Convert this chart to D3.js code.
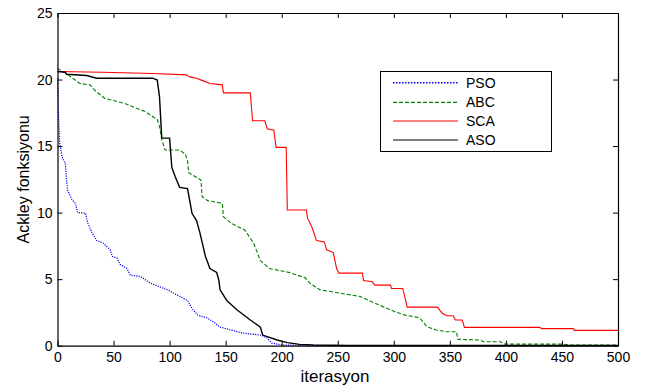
<!DOCTYPE html>
<html><head><meta charset="utf-8">
<script src="https://cdn.jsdelivr.net/npm/d3@7"></script>
<style>
body{margin:0;background:#fff;}
svg{display:block;font-family:"Liberation Sans",Arial,sans-serif;}
</style></head>
<body><svg id="c" width="645" height="390"></svg>
<script>
// ---- data ----
const xTicks = [0,50,100,150,200,250,300,350,400,450,500];
const yTicks = [0,5,10,15,20,25];
const seriesNames = ["PSO","ABC","SCA","ASO"];
const psoData = [[0,20.1],[1,17],[2,15.2],[4,14.2],[7,13.7],[8,12.45],[9,11.7],[13,10.95],[16,10.7],[18,10.0],[25,9.95],[27,9.2],[31,8.45],[35,7.9],[41,7.7],[47,7.2],[49,6.7],[53,6.6],[56,6.1],[62,5.8],[65,5.3],[74,5.2],[83,4.7],[98,4.2],[107,3.8],[116,3.4],[120,2.8],[125,2.3],[133,2.1],[139,1.8],[145,1.4],[154,1.2],[165,0.95],[181,0.8],[187,0.58],[191,0.2],[201,0.05],[230,0.01],[500,0.0]];
const abcData = [[0,20.84],[7,20.5],[20,19.7],[29,19.6],[33,19.2],[42,18.6],[51,18.4],[60,18.2],[69,17.9],[78,17.6],[89,17.0],[91,16.5],[93,15.5],[96,14.7],[109,14.7],[114,14.4],[116,13.9],[117,13.0],[128,12.45],[129,11.2],[134,10.9],[147,10.7],[148,9.7],[155,9.2],[167,8.7],[175,7.7],[181,6.4],[189,5.8],[207,5.5],[221,5.1],[225,4.7],[234,4.2],[252,3.95],[270,3.7],[283,3.2],[301,2.55],[310,2.3],[323,2.1],[329.5,1.43],[338,1.18],[347,1.05],[356,1.05],[357,0.48],[377,0.43],[380,0.3],[395,0.3],[399,0.12],[451,0.12],[456,0.05],[500,0.05]];
const scaData = [[0,20.6],[40,20.55],[85,20.45],[115,20.35],[118,20.2],[124,20.1],[130,19.9],[136,19.7],[147,19.6],[148,19.0],[172,19.0],[174,16.9],[185,16.9],[187,16.3],[193,16.2],[195,14.9],[204,14.9],[205,10.2],[222,10.2],[223,9.6],[227,8.9],[231,7.9],[238,7.8],[240,7.2],[246,7.0],[249,5.8],[251,5.45],[272,5.45],[273,4.9],[281,4.8],[283,4.55],[297,4.55],[298,4.3],[308,4.3],[312,2.9],[339,2.9],[343,2.45],[347,2.25],[353,2.25],[355,1.93],[361,1.93],[363,1.38],[430,1.38],[432,1.28],[460,1.28],[461,1.15],[500,1.15]];
const asoData = [[0,20.6],[7,20.55],[8,20.4],[26,20.3],[35,20.1],[85,20.1],[89,19.96],[91,18.7],[93,15.6],[100,15.6],[102,13.4],[105,12.7],[109,11.9],[116,11.8],[120,9.95],[124,9.4],[127,8.5],[132,6.7],[136,5.8],[142,5.5],[144,4.9],[145,4.2],[151,3.4],[160,2.7],[172,1.93],[181,1.4],[183,0.8],[196,0.43],[205,0.23],[216,0.1],[228,0.05],[260,0.02],[500,0.01]];

const W=645,H=390;
const m={l:57.5,r:618,t:13,b:345.7};
const xs=d3.scaleLinear().domain([0,500]).range([m.l,m.r]);
const ys=d3.scaleLinear().domain([0,25]).range([m.b,m.t]);
const svg=d3.select("#c");

const series=[
 {name:"PSO",data:psoData,color:"#0000ff",dash:"1.2,1.2",w:1.2},
 {name:"ABC",data:abcData,color:"#008000",dash:"4,2",w:1.1},
 {name:"SCA",data:scaData,color:"#ff0000",dash:null,w:1.1},
 {name:"ASO",data:asoData,color:"#000000",dash:null,w:1.4}
];

const lineGen=d3.line().x(d=>xs(d[0])).y(d=>ys(d[1]));
const g=svg.append("g");
series.forEach(s=>{
  g.append("path").attr("d",lineGen(s.data)).attr("fill","none")
   .attr("stroke",s.color).attr("stroke-width",s.w)
   .attr("stroke-dasharray",s.dash);
});

// axes (box with inward ticks)
const tk=5;
const axB=d3.axisBottom(xs).tickValues(xTicks).tickSizeInner(-tk).tickSizeOuter(0).tickPadding(6);
const axT=d3.axisTop(xs).tickValues(xTicks).tickSizeInner(-tk).tickSizeOuter(0).tickFormat("");
const axL=d3.axisLeft(ys).tickValues(yTicks).tickSizeInner(-tk).tickSizeOuter(0).tickPadding(5);
const axR=d3.axisRight(ys).tickValues(yTicks).tickSizeInner(-tk).tickSizeOuter(0).tickFormat("");
function styleAxis(sel){
  sel.selectAll("path").attr("stroke","#000").attr("stroke-width",1.2);
  sel.selectAll("line").attr("stroke","#000");
  sel.selectAll("text").attr("fill","#000").style("font-size","14px").style("font-family","Liberation Sans, Arial, sans-serif");
}
svg.append("g").attr("transform",`translate(0,${m.b})`).call(axB).call(styleAxis);
svg.append("g").attr("transform",`translate(0,${m.t})`).call(axT).call(styleAxis);
svg.append("g").attr("transform",`translate(${m.l},0)`).call(axL).call(styleAxis);
svg.append("g").attr("transform",`translate(${m.r},0)`).call(axR).call(styleAxis);

// axis labels
svg.append("text").attr("x",335).attr("y",382).attr("text-anchor","middle")
  .style("font-size","17px").text("iterasyon");
svg.append("text").attr("transform",`translate(29,${(m.t+m.b)/2}) rotate(-90)`).attr("text-anchor","middle")
  .style("font-size","16px").text("Ackley fonksiyonu");

// legend
const lg=svg.append("g");
lg.append("rect").attr("x",380.5).attr("y",71.5).attr("width",171).attr("height",80)
  .attr("fill","#fff").attr("stroke","#000").attr("stroke-width",1);
const rowY=[82.7,102.3,121,140];
series.forEach((s,i)=>{
  lg.append("line").attr("x1",393).attr("x2",458).attr("y1",rowY[i]).attr("y2",rowY[i])
    .attr("stroke",s.color).attr("stroke-width",s.name==="PSO"?1.5:1.2).attr("stroke-dasharray",s.name==="PSO"?"1.5,1.5":s.dash);
  lg.append("text").attr("x",466).attr("y",rowY[i]+5).style("font-size","14px").text(seriesNames[i]);
});
</script></body></html>
